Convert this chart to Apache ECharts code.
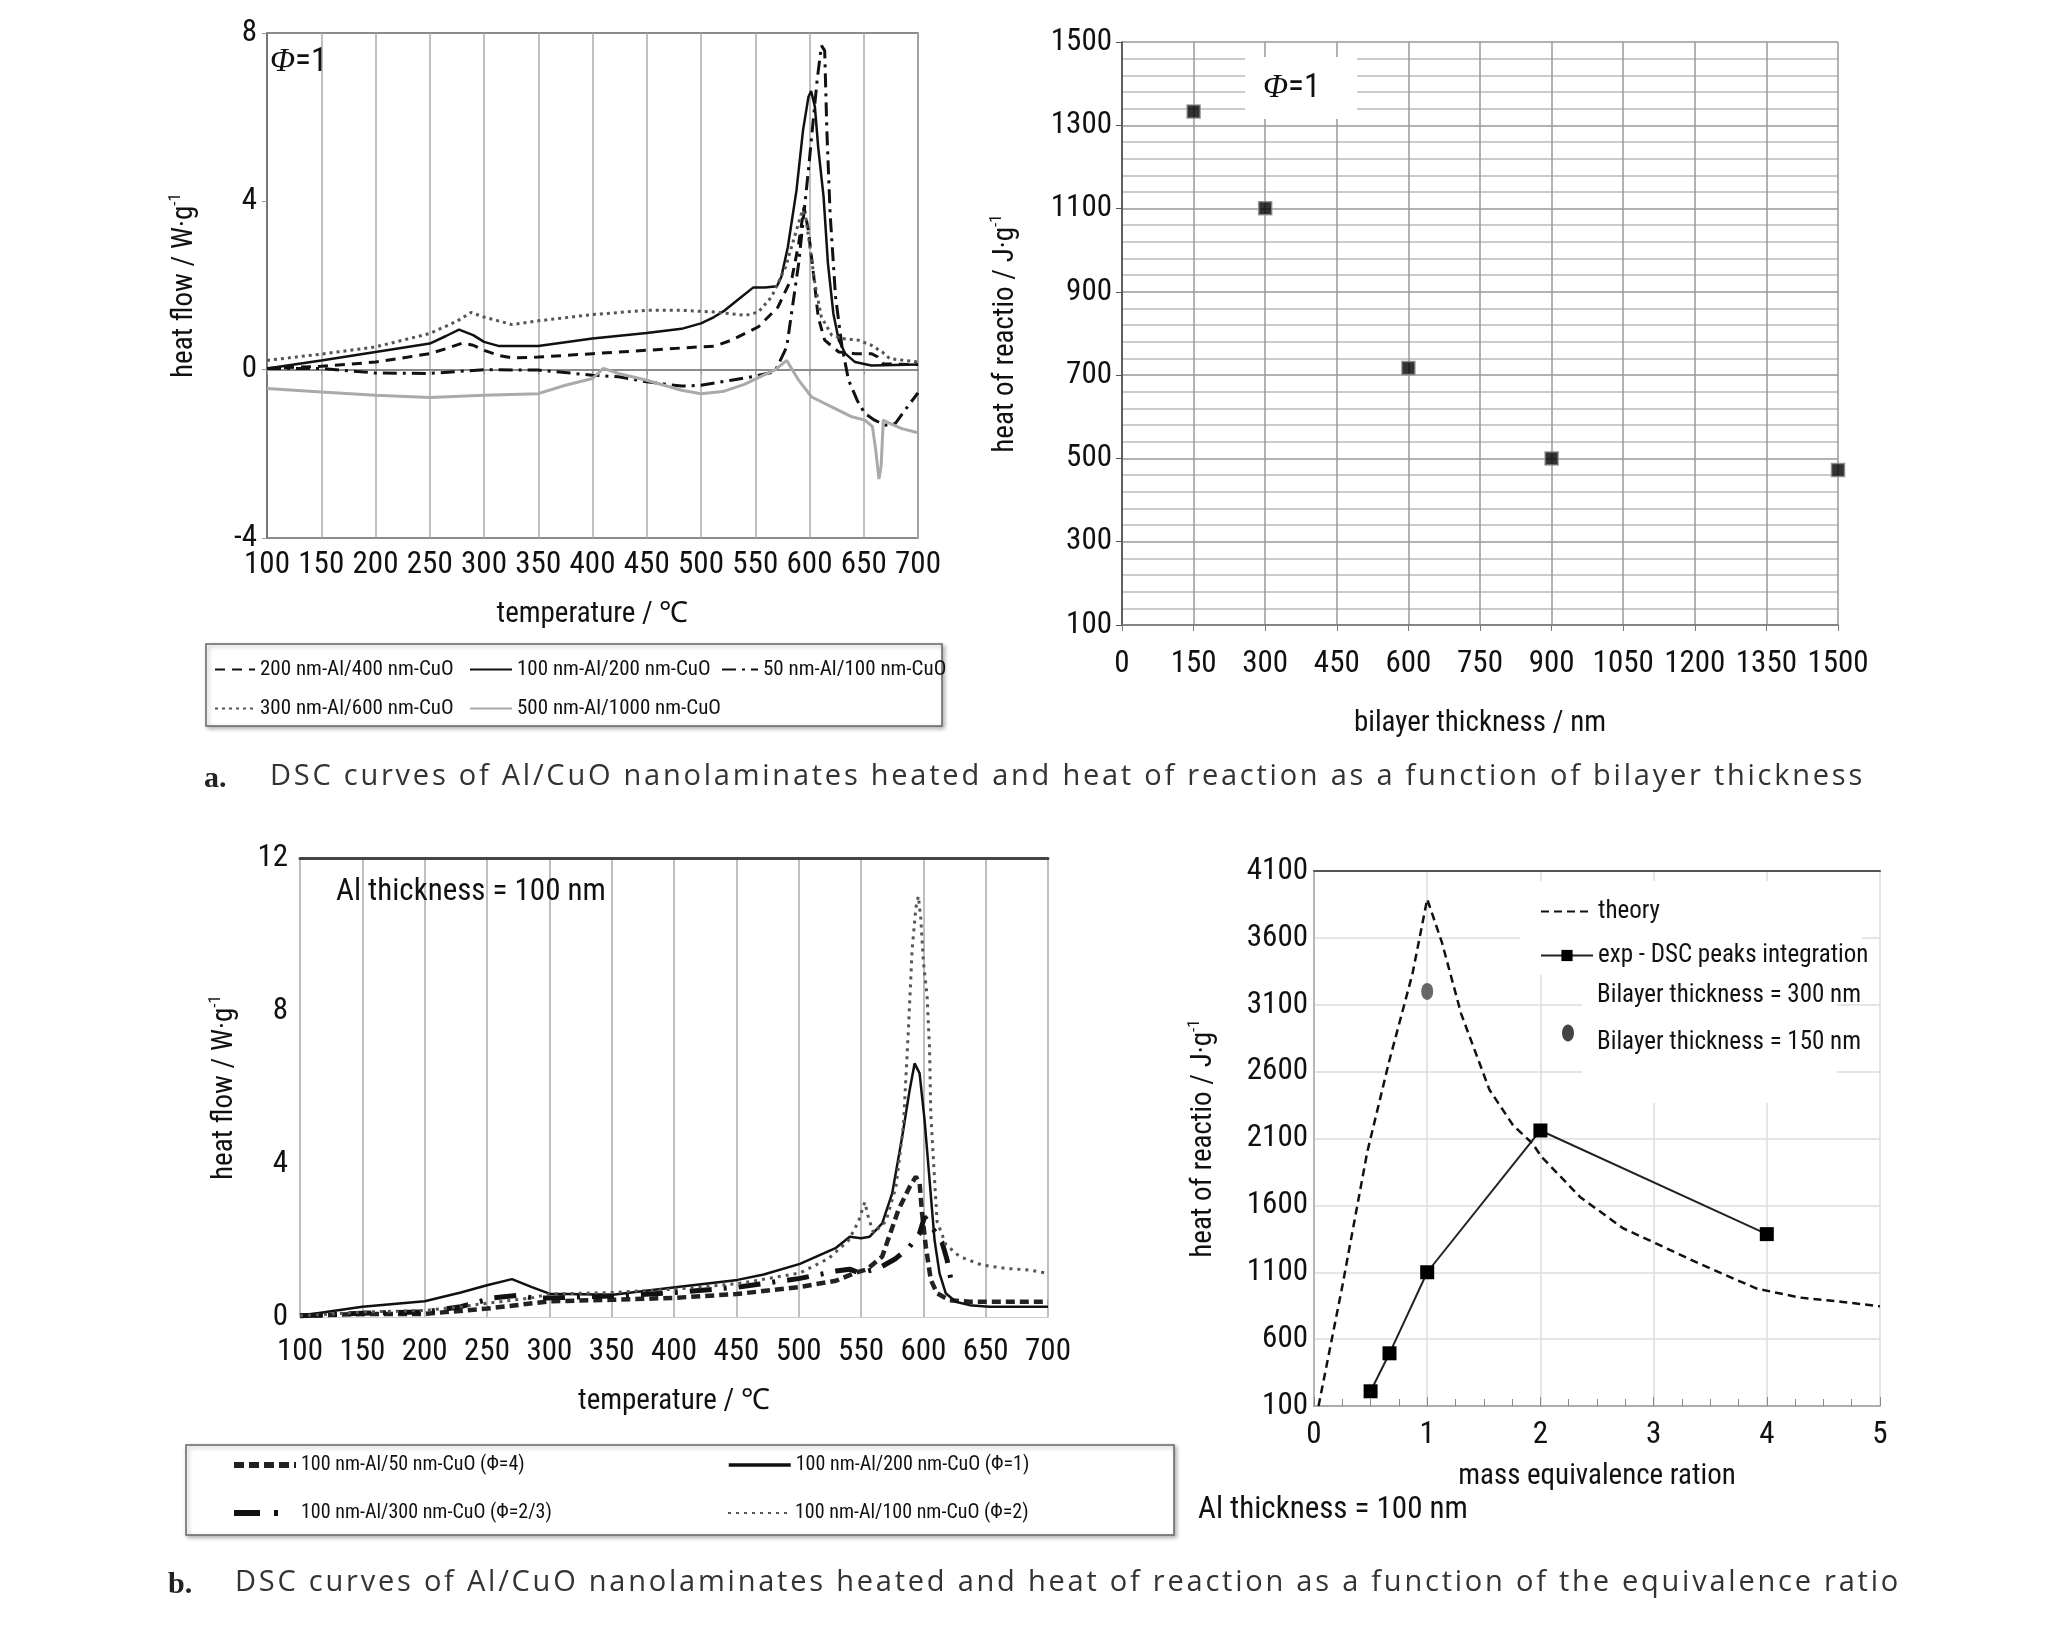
<!DOCTYPE html>
<html><head><meta charset="utf-8">
<script src="https://cdn.jsdelivr.net/npm/echarts@6/dist/echarts.min.js"></script>
<style>html,body{margin:0;padding:0;background:#fff}#c{width:2069px;height:1627px}</style>
</head><body><div id="c"></div>
<script>
// ---------- Panel a (left): DSC curves, Φ=1 ----------
const aSolidT = [100,150,200,250,265,277,290,300,314,350,400,450,482,500,512,522,534,548,559,570,574,580,588,594,599,601.5,605,608,613,617,622,627,633,642,657,700];
const aSolidY = [0.03,0.22,0.42,0.62,0.8,0.95,0.82,0.66,0.56,0.56,0.74,0.87,0.97,1.1,1.25,1.41,1.66,1.95,1.95,1.98,2.2,2.91,4.26,5.68,6.48,6.62,6.24,5.29,4.1,2.52,1.33,0.7,0.38,0.18,0.1,0.12];
const aDashT = [100,150,200,250,265,280,290,300,315,326,350,400,450,497,513,528,553,571,584,590,595,599,604,608,614,627,642,657,663,668,700];
const aDashY = [0.03,0.08,0.18,0.38,0.5,0.63,0.58,0.46,0.33,0.28,0.3,0.38,0.46,0.54,0.56,0.7,1.02,1.49,2.2,2.99,3.86,3.3,2.2,1.25,0.7,0.42,0.38,0.38,0.3,0.14,0.12];
const aDashDotT = [100,150,200,250,300,350,400,424,450,482,500,528,547,568,579,590,599,607,611,614,616,619,624,630,636,644,651,660,670,679,688,700];
const aDashDotY = [0.03,0.03,-0.08,-0.09,0.0,-0.01,-0.13,-0.17,-0.29,-0.39,-0.37,-0.25,-0.17,-0.05,0.54,2.52,4.74,6.87,7.7,7.58,5.68,3.71,1.73,0.54,-0.25,-0.73,-1.04,-1.2,-1.32,-1.28,-0.96,-0.55];
const aDotT = [100,150,200,250,275,288,300,326,350,400,450,482,513,541,553,565,578,587,593.5,596.5,600.5,605,611,620.5,630,645,657,667,674,688,700];
const aDotY = [0.22,0.37,0.54,0.86,1.15,1.36,1.25,1.07,1.16,1.31,1.41,1.41,1.37,1.29,1.37,1.73,2.44,3.23,3.79,3.63,2.9,2.04,1.25,0.82,0.74,0.7,0.58,0.42,0.26,0.22,0.18];
const aGreyT = [100,150,200,250,300,350,375,400,410,424,450,482,500,520,540,560,568,579,590,602,620,639,651,658,661,664,666,668,672,685,700];
const aGreyY = [-0.45,-0.53,-0.61,-0.66,-0.61,-0.57,-0.37,-0.21,0.03,-0.09,-0.25,-0.49,-0.57,-0.52,-0.35,-0.1,-0.01,0.22,-0.25,-0.65,-0.88,-1.12,-1.2,-1.35,-1.9,-2.6,-2.3,-1.2,-1.25,-1.4,-1.5];

// ---------- Panel a (right): heat of reaction vs bilayer thickness ----------
const bilayerNm = [150,300,600,900,1500];
const heatBilayer = [1333,1101,717,500,472];

// ---------- Panel b (left): DSC curves, Al thickness = 100 nm ----------
const bSolidT = [100,150,200,229,250,270,286,300,351,401,451,472,501,530,541,550,557,567,575,583,589,593,594,597,601,605,609,613,618,626,637,653,700];
const bSolidY = [0.03,0.27,0.41,0.64,0.83,0.99,0.78,0.61,0.58,0.78,0.97,1.11,1.39,1.81,2.1,2.06,2.1,2.45,3.23,4.71,5.93,6.63,6.67,6.37,5.15,3.58,2.01,1.14,0.62,0.4,0.31,0.27,0.27];
const bPhi4T = [100,150,200,250,300,350,400,450,500,530,545,555,567,580,589,594,597,599,602,606,611,621,637,700];
const bPhi4Y = [0.03,0.08,0.08,0.22,0.41,0.45,0.5,0.6,0.78,0.95,1.15,1.25,1.58,2.8,3.4,3.67,3.5,2.71,1.84,0.97,0.62,0.44,0.4,0.4];
const bPhi23T = [100,150,200,229,255,275,286,300,350,401,451,501,530,541,549,564,578,589,597,601,606,611,615,619,622];
const bPhi23Y = [0.03,0.1,0.13,0.27,0.5,0.57,0.5,0.5,0.55,0.64,0.78,1.01,1.2,1.25,1.15,1.27,1.53,1.84,2.19,2.62,2.4,2.15,1.95,1.5,1.0];
const bPhi2T = [100,150,200,229,250,286,300,350,401,451,501,524,540,548,553,556,560,570,578,584,588,591,594,596,598,600,603,605,606,609,611,618,629,647,666,685,700];
const bPhi2Y = [0.03,0.13,0.17,0.27,0.36,0.5,0.6,0.64,0.73,0.87,1.15,1.53,2.0,2.5,3.0,2.6,2.2,2.5,3.4,5.0,7.5,9.6,10.7,11.0,10.4,9.3,8.4,7.0,5.3,3.6,2.5,1.9,1.58,1.36,1.27,1.23,1.14];

// ---------- Panel b (right): heat of reaction vs equivalence ratio ----------
const theoryPhi = [0.04,0.25,0.47,0.66,0.87,1.0,1.13,1.3,1.55,1.76,1.93,2.01,2.35,2.73,3.03,3.41,3.91,4.29,4.67,5.0];
const theoryHeat = [100,995,1997,2664,3332,3890,3566,3032,2464,2197,2063,1963,1663,1429,1312,1162,978,911,878,845];
const expPhi = [0.5,0.667,1,2,4];
const expHeat = [210,494,1100,2160,1385];
const bilayer150Phi = [1];
const bilayer150Heat = [3200];

// ---------- texts ----------
const captionA = 'DSC curves of Al/CuO nanolaminates heated and heat of reaction as a function of bilayer thickness';
const captionB = 'DSC curves of Al/CuO nanolaminates heated and heat of reaction as a function of the equivalence ratio';

// ---------- font selection (condensed face if available) ----------
const mctx = document.createElement('canvas').getContext('2d');
function mw(font, s) { mctx.font = font; return mctx.measureText(s).width; }
function pickFont() {
  const s = '100 150 200 nm-Al/CuO';
  const installed = f => mw("40px '" + f + "', monospace", s) !== mw('40px monospace', s) ||
                         mw("40px '" + f + "', serif", s) !== mw('40px serif', s);
  const named = ['Liberation Sans Narrow','Arial Narrow','Roboto Condensed','Noto Sans Condensed','Open Sans Condensed','DejaVu Sans Condensed'];
  for (const f of named) if (installed(f)) return {family:"'" + f + "'", weight:'normal', cond:true};
  for (const f of ['Noto Sans','Open Sans','DejaVu Sans','Roboto']) {
    const a = mw("40px '" + f + "'", s), b = mw("normal condensed 40px '" + f + "'", s);
    if (b < a * 0.95) return {family:"'" + f + "'", weight:'condensed', cond:true};
  }
  return {family:"'Liberation Sans'", weight:'normal', cond:false};
}
const PF = pickFont();
const FONT = PF.family + ', sans-serif';
const FW = PF.weight;
const LSZ = PF.cond ? 31 : 27;
const NSZ = PF.cond ? 29 : 25;
const fontStr = sz => 'normal ' + FW + ' ' + sz + 'px ' + FONT;

const zip = (xs, ys) => xs.map((x, i) => [x, ys[i]]);
const LBL = {color:'#111', fontSize:LSZ, fontFamily:FONT, fontWeight:FW};
const NAME = {color:'#111', fontSize:NSZ, fontFamily:FONT, fontWeight:FW};
const yName = {fontSize:NSZ, fontFamily:FONT, fontWeight:FW, color:'#111', lineHeight:36,
  rich:{t:{fontSize:NSZ, fontFamily:FONT, fontWeight:FW, color:'#111', lineHeight:36},
        s:{fontSize:17, fontFamily:FONT, fontWeight:FW, color:'#111', verticalAlign:'top', lineHeight:36, padding:[0,0,14,0]}}};
const LEG = sz => ({fontSize:sz, fontFamily:FONT, fontWeight:FW, color:'#111'});
const noSym = {color:'rgba(0,0,0,0)', borderColor:'rgba(0,0,0,0)', borderWidth:0};
const numFmt = v => String(v);

// caption with letter spacing (each character a rich token)
function spaced(text, font, target) {
  const nat = mw(font, text);
  const pad = Math.max(0, (target - nat) / text.length);
  return {text: text.split('').map(ch => '{c|' + ch + '}').join(''), pad};
}
const CAPFONT = "29px 'Open Sans', sans-serif";
const capA = spaced(captionA, CAPFONT, 1595);
const capB = spaced(captionB, CAPFONT, 1666);

const chart = echarts.init(document.getElementById('c'), null, {renderer:'canvas'});

function lineS(name, data, xi, opt) {
  return Object.assign({type:'line', name, data, xAxisIndex:xi, yAxisIndex:xi, symbol:'none',
    showSymbol:false, smooth:false, animation:false, z:3}, opt);
}
function leg(name, left, top, w, sz, extra) {
  return Object.assign({data:[name], left, top, padding:0, itemWidth:w, itemHeight:14,
    textStyle:LEG(sz), itemStyle:noSym}, extra || {});
}

const option = {
  animation:false,
  backgroundColor:'#fff',
  textStyle:{fontFamily:FONT},
  grid:[
    {left:267, top:33, width:651, height:505, show:true, borderColor:'#666', borderWidth:1.5, backgroundColor:'transparent'},
    {left:1122, top:42, width:716, height:583},
    {left:300, top:858, width:748, height:459},
    {left:1314, top:871, width:566, height:535}
  ],
  xAxis:[
    {gridIndex:0, type:'value', min:100, max:700, interval:50,
      axisLine:{show:true, lineStyle:{color:'#666', width:1.5}},
      axisTick:{show:true, length:5, lineStyle:{color:'#999'}},
      axisLabel:Object.assign({margin:12, formatter:numFmt, showMaxLabel:true, showMinLabel:true, hideOverlap:false}, LBL),
      splitLine:{show:true, lineStyle:{color:'#aaa', width:1.5}},
      name:'temperature / ℃', nameLocation:'middle', nameGap:62, nameTextStyle:NAME},
    {gridIndex:1, type:'value', min:0, max:1500, interval:150,
      axisLine:{show:true, lineStyle:{color:'#777', width:1.5}},
      axisTick:{show:true, length:6, lineStyle:{color:'#777'}},
      axisLabel:Object.assign({margin:24, formatter:numFmt, showMaxLabel:true, showMinLabel:true, hideOverlap:false}, LBL),
      splitLine:{show:true, lineStyle:{color:'#999', width:1.5}},
      name:'bilayer thickness / nm', nameLocation:'middle', nameGap:84, nameTextStyle:NAME},
    {gridIndex:2, type:'value', min:100, max:700, interval:50,
      axisLine:{show:true, lineStyle:{color:'#ccc', width:1}},
      axisTick:{show:false},
      axisLabel:Object.assign({margin:20, formatter:numFmt, showMaxLabel:true, showMinLabel:true, hideOverlap:false}, LBL),
      splitLine:{show:true, lineStyle:{color:'#aaa', width:1.5}},
      name:'temperature / ℃', nameLocation:'middle', nameGap:70, nameTextStyle:NAME},
    {gridIndex:3, type:'value', min:0, max:5, interval:1,
      axisLine:{show:true, lineStyle:{color:'#999', width:1.5}},
      axisTick:{show:true, inside:true, length:9, lineStyle:{color:'#888'}},
      minorTick:{show:true, splitNumber:4, length:7, lineStyle:{color:'#888'}},
      axisLabel:Object.assign({margin:14, formatter:numFmt}, LBL),
      splitLine:{show:true, lineStyle:{color:'#ddd', width:1.5}},
      name:'mass equivalence ration', nameLocation:'middle', nameGap:56, nameTextStyle:NAME},
    {gridIndex:2, type:'value', position:'top', min:100, max:700, axisLine:{show:true, lineStyle:{color:'#444', width:3}},
      axisTick:{show:false}, axisLabel:{show:false}, splitLine:{show:false}},
    {gridIndex:3, type:'value', position:'top', min:0, max:5, axisLine:{show:true, lineStyle:{color:'#555', width:2}},
      axisTick:{show:false}, axisLabel:{show:false}, splitLine:{show:false}}
  ],
  yAxis:[
    {gridIndex:0, type:'value', min:-4, max:8, interval:4,
      axisLine:{show:true, lineStyle:{color:'#666', width:1.5}},
      axisTick:{show:true, length:5, lineStyle:{color:'#999'}},
      axisLabel:Object.assign({margin:10, formatter:numFmt}, LBL),
      splitLine:{show:false},
      name:'{t|heat flow / W·g}{s|-1}', nameLocation:'middle', nameGap:64, nameRotate:90, nameTextStyle:yName},
    {gridIndex:1, type:'value', min:100, max:1500, interval:200,
      axisLine:{show:true, lineStyle:{color:'#444', width:1.5}},
      axisTick:{show:true, length:6, lineStyle:{color:'#555'}},
      minorTick:{show:false, splitNumber:5},
      minorSplitLine:{show:true, lineStyle:{color:'#bbb', width:1.5}},
      axisLabel:Object.assign({margin:10, formatter:numFmt}, LBL),
      splitLine:{show:true, lineStyle:{color:'#999', width:1.5}},
      name:'{t|heat of reactio / J·g}{s|-1}', nameLocation:'middle', nameGap:98, nameRotate:90, nameTextStyle:yName},
    {gridIndex:2, type:'value', min:0, max:12, interval:4,
      axisLine:{show:true, lineStyle:{color:'#bbb', width:1.5}},
      axisTick:{show:false},
      axisLabel:Object.assign({margin:12, formatter:numFmt}, LBL),
      splitLine:{show:false},
      name:'{t|heat flow / W·g}{s|-1}', nameLocation:'middle', nameGap:57, nameRotate:90, nameTextStyle:yName},
    {gridIndex:3, type:'value', min:100, max:4100, interval:500,
      axisLine:{show:true, lineStyle:{color:'#999', width:1.5}},
      axisTick:{show:false},
      axisLabel:Object.assign({margin:6, formatter:numFmt}, LBL),
      splitLine:{show:true, lineStyle:{color:'#ddd', width:1.5}},
      name:'{t|heat of reactio / J·g}{s|-1}', nameLocation:'middle', nameGap:92, nameRotate:90, nameTextStyle:yName},
    {gridIndex:3, type:'value', position:'right', min:100, max:4100,
      axisLine:{show:true, lineStyle:{color:'#bbb', width:1.5}}, axisTick:{show:false}, axisLabel:{show:false}, splitLine:{show:false}}
  ],
  legend:[
    leg('200 nm-Al/400 nm-CuO', 214, 659, 40, 21),
    leg('100 nm-Al/200 nm-CuO', 469, 659, 42, 21),
    leg('50 nm-Al/100 nm-CuO', 721, 659, 36, 21),
    leg('300 nm-Al/600 nm-CuO', 214, 698, 40, 21),
    leg('500 nm-Al/1000 nm-CuO', 469, 698, 42, 21),
    leg('100 nm-Al/50 nm-CuO (Φ=4)', 231, 1455, 62, 20, {lineStyle:{width:6, type:[10,5]}}),
    leg('100 nm-Al/200 nm-CuO (Φ=1)', 727, 1455, 62, 20, {lineStyle:{width:3.5}}),
    leg('100 nm-Al/300 nm-CuO (Φ=2/3)', 231, 1503, 62, 20, {lineStyle:{width:6, type:[26,14,4,30]}}),
    leg('100 nm-Al/100 nm-CuO (Φ=2)', 727, 1503, 62, 20),
    leg('theory', 1540, 899, 52, 25),
    leg('exp - DSC peaks integration', 1540, 943, 52, 25, {itemStyle:{color:'#000'}})
  ],
  series:[
    lineS('200 nm-Al/400 nm-CuO', zip(aDashT, aDashY), 0, {lineStyle:{color:'#111', width:3, type:[10,7]}}),
    lineS('100 nm-Al/200 nm-CuO', zip(aSolidT, aSolidY), 0, {lineStyle:{color:'#111', width:2.5}}),
    lineS('50 nm-Al/100 nm-CuO', zip(aDashDotT, aDashDotY), 0, {lineStyle:{color:'#111', width:3, type:[14,6,3,6]}}),
    lineS('300 nm-Al/600 nm-CuO', zip(aDotT, aDotY), 0, {lineStyle:{color:'#555', width:3, type:[3,4]}}),
    lineS('500 nm-Al/1000 nm-CuO', zip(aGreyT, aGreyY), 0, {lineStyle:{color:'#aaa', width:3}}),

    {type:'scatter', name:'heat of reaction', data:zip(bilayerNm, heatBilayer), xAxisIndex:1, yAxisIndex:1,
      symbol:'rect', symbolSize:13, itemStyle:{color:'#000', borderColor:'#888', borderWidth:1.5}, z:5},

    lineS('100 nm-Al/50 nm-CuO (Φ=4)', zip(bPhi4T, bPhi4Y), 2, {lineStyle:{color:'#222', width:4.5, type:[9,5]}}),
    lineS('100 nm-Al/200 nm-CuO (Φ=1)', zip(bSolidT, bSolidY), 2, {lineStyle:{color:'#111', width:2.5}}),
    lineS('100 nm-Al/300 nm-CuO (Φ=2/3)', zip(bPhi23T, bPhi23Y), 2, {lineStyle:{color:'#111', width:5, type:[22,12,3,12]}}),
    lineS('100 nm-Al/100 nm-CuO (Φ=2)', zip(bPhi2T, bPhi2Y), 2, {lineStyle:{color:'#555', width:3, type:[3,5]}}),

    lineS('theory', zip(theoryPhi, theoryHeat), 3, {lineStyle:{color:'#111', width:2.5, type:[8,5]}}),
    lineS('exp - DSC peaks integration', zip(expPhi, expHeat), 3, {symbol:'rect', showSymbol:true, symbolSize:14,
      itemStyle:{color:'#000'}, lineStyle:{color:'#222', width:2}}),
    {type:'scatter', name:'Bilayer thickness = 150 nm', data:zip(bilayer150Phi, bilayer150Heat), xAxisIndex:3, yAxisIndex:3,
      symbol:'circle', symbolSize:[12,17], itemStyle:{color:'#444'}, z:5}
  ],
  graphic:[
    {type:'rect', shape:{x:206, y:644, width:736, height:82}, style:{fill:'#fff', stroke:'#666', lineWidth:1.5,
      shadowBlur:4, shadowOffsetX:2, shadowOffsetY:2, shadowColor:'rgba(0,0,0,0.3)'}, z:-1},
    {type:'rect', shape:{x:186, y:1445, width:988, height:90}, style:{fill:'#fff', stroke:'#666', lineWidth:1.5,
      shadowBlur:4, shadowOffsetX:2, shadowOffsetY:2, shadowColor:'rgba(0,0,0,0.3)'}, z:-1},
    {type:'rect', shape:{x:1520, y:881, width:342, height:94}, style:{fill:'#fff'}, z:1},
    {type:'rect', shape:{x:1582, y:975, width:255, height:128}, style:{fill:'#fff'}, z:1},
    {type:'text', left:1597, top:983, style:{text:'Bilayer thickness = 300 nm', font:fontStr(25), fill:'#111'}, z:10},
    {type:'text', left:1597, top:1030, style:{text:'Bilayer thickness = 150 nm', font:fontStr(25), fill:'#111'}, z:10},
    {type:'ellipse', shape:{cx:1568, cy:1033, rx:6, ry:8.5}, style:{fill:'#444'}, z:10},
    {type:'text', left:270, top:46, style:{text:'{i|Φ}=1', font:fontStr(33), fill:'#111',
      rich:{i:{fontFamily:"'Liberation Serif',serif", fontStyle:'italic', fontSize:33, fill:'#111'}}}, z:10},
    {type:'rect', shape:{x:1245, y:57, width:112, height:62}, style:{fill:'#fff'}, z:5},
    {type:'text', left:1263, top:72, style:{text:'{i|Φ}=1', font:fontStr(33), fill:'#111',
      rich:{i:{fontFamily:"'Liberation Serif',serif", fontStyle:'italic', fontSize:33, fill:'#111'}}}, z:10},
    {type:'text', left:336, top:877, style:{text:'Al thickness = 100 nm', font:fontStr(31), fill:'#111'}, z:10},
    {type:'text', left:1198, top:1495, style:{text:'Al thickness = 100 nm', font:fontStr(31), fill:'#111'}, z:10},
    {type:'text', left:204, top:764, style:{text:'a.', font:"bold 30px 'Liberation Serif',serif", fill:'#222'}, z:10},
    {type:'text', left:270, top:762, style:{text:capA.text, font:CAPFONT, fill:'#333',
      rich:{c:{font:CAPFONT, fill:'#333', padding:[0, capA.pad, 0, 0]}}}, z:10},
    {type:'text', left:168, top:1570, style:{text:'b.', font:"bold 30px 'Liberation Serif',serif", fill:'#222'}, z:10},
    {type:'text', left:235, top:1568, style:{text:capB.text, font:CAPFONT, fill:'#333',
      rich:{c:{font:CAPFONT, fill:'#333', padding:[0, capB.pad, 0, 0]}}}, z:10}
  ]
};
chart.setOption(option);
</script></body></html>
